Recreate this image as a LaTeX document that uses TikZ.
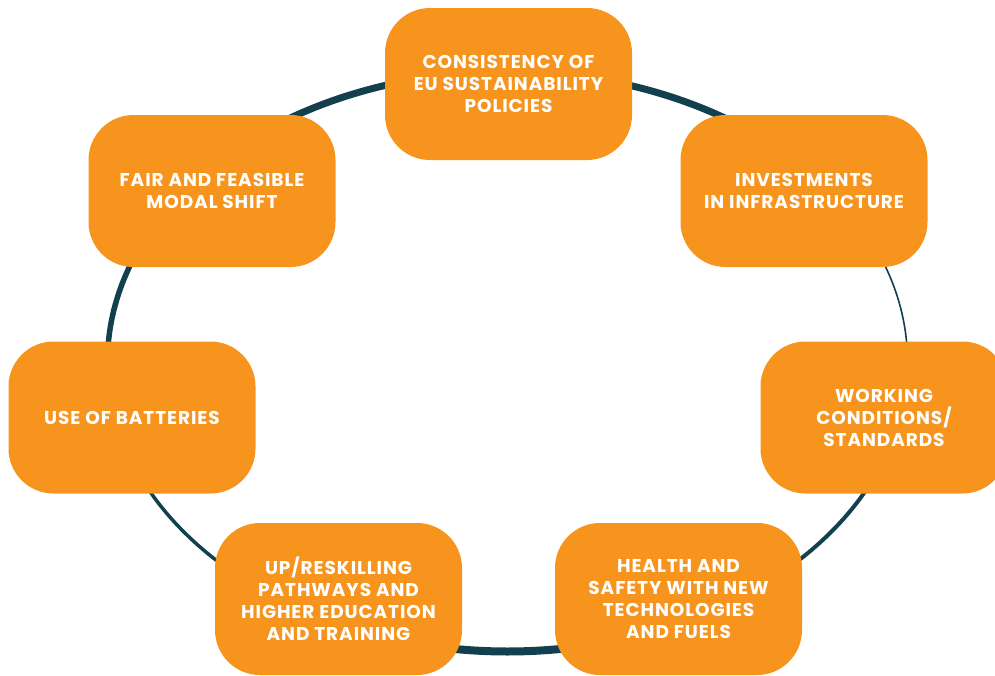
\documentclass[tikz,border=0pt]{standalone}
\usepackage{fontspec}
\setmainfont{Poppins}[LetterSpace=5]
\definecolor{ringblue}{HTML}{12404E}
\definecolor{boxorange}{HTML}{F7941E}

\begin{document}
\begin{tikzpicture}[x=1pt,y=-1pt,
  topic/.style={shape=rectangle,rounded corners=45pt,fill=boxorange,text=white,
    minimum width=247pt,minimum height=152pt,inner sep=0pt,align=center,
    font=\fontsize{18.5}{22}\selectfont\bfseries},
  ring/.style={draw=ringblue,line cap=round}]
  \useasboundingbox (0,0) rectangle (995,675);
  \coordinate (c) at (507.5,361.5);
  % the ring, a piece per gap (not all equally thick)
  \draw[ring,line width=7pt] (c) ++(-90:400 and 290) arc[start angle=-90,end angle=-38.5,x radius=400,y radius=290];
  \draw[ring,line width=1.6pt] (c) ++(-38.5:400 and 290) arc[start angle=-38.5,end angle=11,x radius=400,y radius=290];
  \draw[ring,line width=4pt] (c) ++(11:400 and 290) arc[start angle=11,end angle=63,x radius=400,y radius=290];
  \draw[ring,line width=8pt] (c) ++(63:400 and 290) arc[start angle=63,end angle=117,x radius=400,y radius=290];
  \draw[ring,line width=3.5pt] (c) ++(117:400 and 290) arc[start angle=117,end angle=169,x radius=400,y radius=290];
  \draw[ring,line width=5.5pt] (c) ++(169:400 and 290) arc[start angle=169,end angle=218.5,x radius=400,y radius=290];
  \draw[ring,line width=7pt] (c) ++(218.5:400 and 290) arc[start angle=218.5,end angle=270,x radius=400,y radius=290];
  %\draw[red] (c) ellipse [x radius=400,y radius=290];
  \node[topic] (policies) at (508.5,84) {CONSISTENCY OF\\EU SUSTAINABILITY\\POLICIES};
  \node[topic] (invest) at (804,191) {INVESTMENTS\\IN INFRASTRUCTURE};
  \node[topic] (working) at (884,417.5) {WORKING\\CONDITIONS/\\STANDARDS};
  \node[topic] (health) at (678.5,599) {HEALTH AND\\SAFETY WITH NEW\\TECHNOLOGIES\\AND FUELS};
  \node[topic] (skills) at (338.5,599) {UP/RESKILLING\\PATHWAYS AND\\HIGHER EDUCATION\\AND TRAINING};
  \node[topic] (batteries) at (132,417.5) {USE OF BATTERIES};
  \node[topic] (modal) at (212,191) {FAIR AND FEASIBLE\\MODAL SHIFT};
\end{tikzpicture}
\end{document}
